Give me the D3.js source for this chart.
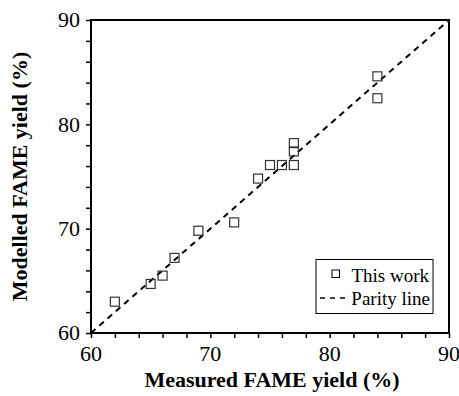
<!DOCTYPE html>
<html>
<head>
<meta charset="utf-8">
<script src="https://cdn.jsdelivr.net/npm/d3@7"></script>
<style>
  body { margin: 0; background: #fff; }
</style>
</head>
<body>
<div id="chart"></div>
<script>
// Measured vs modelled FAME yield (%)
const measured = [62, 65, 66, 67, 69, 72, 74, 75, 76, 77, 77, 77, 84, 84];
const modelled = [63.0, 64.7, 65.5, 67.2, 69.8, 70.6, 74.8, 76.1, 76.1, 76.1, 77.4, 78.2, 82.5, 84.6];
const parity = [60, 90];
const majorTicks = [60, 70, 80, 90];
const minorTicks = d3.range(60, 91, 2);

const FONT = "'Liberation Serif', 'Times New Roman', Times, serif";
const W = 459, H = 396;
const margin = { top: 20, right: 10, bottom: 63, left: 91 };
const width = W - margin.left - margin.right;
const height = H - margin.top - margin.bottom;

const svg = d3.select("#chart").append("svg")
    .attr("width", W)
    .attr("height", H)
    .style("font-family", FONT);

const g = svg.append("g")
    .attr("transform", `translate(${margin.left}, ${margin.top})`);

const x = d3.scaleLinear().domain([60, 90]).range([0, width]);
const y = d3.scaleLinear().domain([60, 90]).range([height, 0]);

// minor + major ticks (outward), labels only on major
const xAxis = g.append("g")
    .attr("transform", `translate(0, ${height})`)
    .call(d3.axisBottom(x).tickValues(minorTicks).tickSize(5).tickFormat(""));
const yAxis = g.append("g")
    .call(d3.axisLeft(y).tickValues(minorTicks).tickSize(5).tickFormat(""));
[xAxis, yAxis].forEach(a => {
    a.select(".domain").remove();
    a.selectAll("line").attr("stroke", "#000").attr("stroke-width", 1.5);
});

g.selectAll(".xlab")
    .data(majorTicks)
    .enter().append("text")
    .attr("x", d => x(d))
    .attr("y", height + 28)
    .attr("text-anchor", "middle")
    .style("font-family", FONT)
    .style("font-size", "22px")
    .text(d => d);

g.selectAll(".ylab")
    .data(majorTicks)
    .enter().append("text")
    .attr("x", -11)
    .attr("y", d => y(d))
    .attr("dy", "0.34em")
    .attr("text-anchor", "end")
    .style("font-family", FONT)
    .style("font-size", "22px")
    .text(d => d);

// frame
g.append("rect")
    .attr("width", width)
    .attr("height", height)
    .attr("fill", "none")
    .attr("stroke", "#000")
    .attr("stroke-width", 2);

// parity line
g.append("line")
    .attr("x1", x(parity[0])).attr("y1", y(parity[0]))
    .attr("x2", x(parity[1])).attr("y2", y(parity[1]))
    .attr("stroke", "#000")
    .attr("stroke-width", 2)
    .attr("stroke-dasharray", "6,5");

// points
const s = 9;
g.selectAll(".pt")
    .data(measured.map((m, i) => ({ m, p: modelled[i] })))
    .enter().append("rect")
    .attr("x", d => x(d.m) - s / 2)
    .attr("y", d => y(d.p) - s / 2)
    .attr("width", s)
    .attr("height", s)
    .attr("fill", "none")
    .attr("stroke", "#333")
    .attr("stroke-width", 1.2);

// axis titles
svg.append("text")
    .attr("x", 272)
    .attr("y", 387)
    .attr("text-anchor", "middle")
    .style("font-family", FONT)
    .style("font-size", "22px")
    .style("font-weight", "bold")
    .text("Measured FAME yield (%)");

svg.append("text")
    .attr("transform", `translate(27, ${margin.top + height / 2}) rotate(-90)`)
    .attr("text-anchor", "middle")
    .style("font-family", FONT)
    .style("font-size", "22px")
    .style("font-weight", "bold")
    .text("Modelled FAME yield (%)");

// legend
const legend = svg.append("g");
legend.append("rect")
    .attr("x", 316).attr("y", 259.5)
    .attr("width", 117).attr("height", 54)
    .attr("fill", "#fff")
    .attr("stroke", "#000")
    .attr("stroke-width", 1);
legend.append("rect")
    .attr("x", 332).attr("y", 270)
    .attr("width", 7.5).attr("height", 7.5)
    .attr("fill", "none")
    .attr("stroke", "#000")
    .attr("stroke-width", 1);
legend.append("text")
    .attr("x", 429).attr("y", 282)
    .attr("text-anchor", "end")
    .style("font-family", FONT)
    .style("font-size", "19px")
    .text("This work");
legend.append("line")
    .attr("x1", 320).attr("x2", 347)
    .attr("y1", 298).attr("y2", 298)
    .attr("stroke", "#000")
    .attr("stroke-width", 1.5)
    .attr("stroke-dasharray", "5,5");
legend.append("text")
    .attr("x", 430).attr("y", 305)
    .attr("text-anchor", "end")
    .style("font-family", FONT)
    .style("font-size", "19px")
    .text("Parity line");
</script>
</body>
</html>
